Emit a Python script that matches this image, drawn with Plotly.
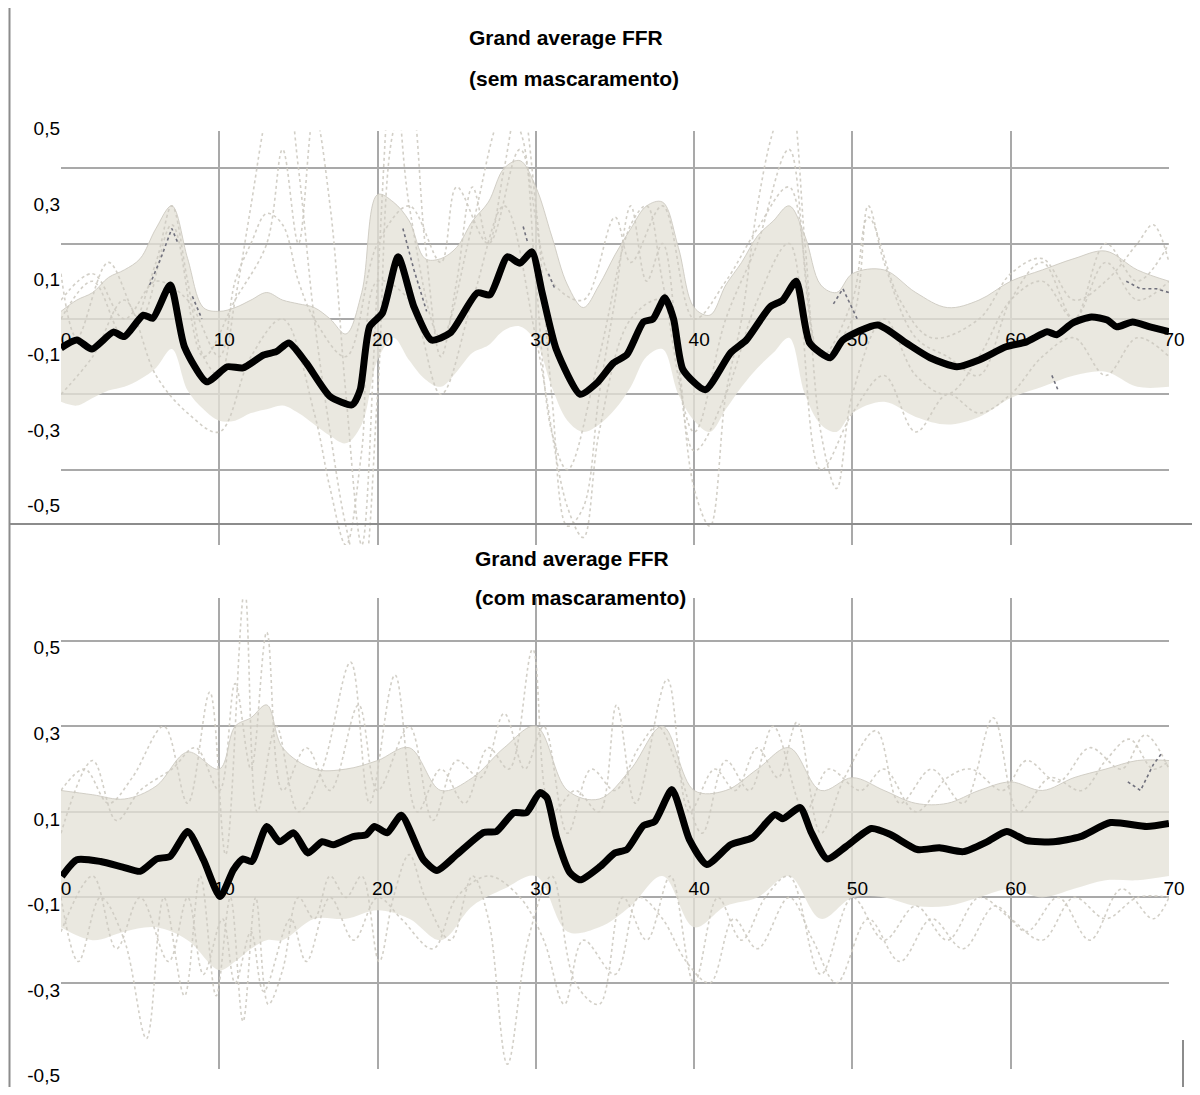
import plotly.graph_objects as go

# ---------------- data ----------------
X_TICKS = [0, 10, 20, 30, 40, 50, 60, 70]
X_TICKTEXT = ["0", "10", "20", "30", "40", "50", "60", "70"]
Y_LABEL_VALS = [0.5, 0.3, 0.1, -0.1, -0.3, -0.5]
Y_LABEL_TEXT = ["0,5", "0,3", "0,1", "-0,1", "-0,3", "-0,5"]
TOP_GRID_VALS = [0.4, 0.2, 0.0, -0.2, -0.4, -0.6]

TITLE_TOP = ["Grand average FFR", "(sem mascaramento)"]
TITLE_BOT = ["Grand average FFR", "(com mascaramento)"]

# grand average, top panel (sem mascaramento)
TOP_MEAN_X = [0.0, 1.0, 1.95, 3.3, 4.0, 5.2, 5.8, 6.9, 7.8, 9.2, 10.5, 11.5, 12.8, 13.6, 14.4, 15.5,
              17.0, 18.4, 18.9, 19.5, 20.3, 21.3, 22.3, 23.4, 24.6, 26.3, 27.1, 28.2, 29.0, 29.75,
              30.4, 31.3, 32.8, 33.85, 34.9, 35.75, 36.8, 37.4, 38.15, 38.7, 39.3, 40.7, 42.3, 43.3,
              44.8, 45.6, 46.45, 47.3, 48.6, 49.4, 51.6, 53.4, 54.9, 56.6, 58.0, 59.7, 61.0, 62.3,
              62.9, 63.9, 65.1, 66.1, 66.7, 67.7, 68.8, 70.0]
TOP_MEAN_Y = [-0.077, -0.056, -0.08, -0.035, -0.047, 0.01, 0.002, 0.09, -0.074, -0.167, -0.127, -0.13,
              -0.096, -0.087, -0.064, -0.117, -0.206, -0.228, -0.188, -0.02, 0.015, 0.165, 0.032,
              -0.056, -0.037, 0.069, 0.064, 0.165, 0.148, 0.178, 0.069, -0.082, -0.2, -0.17, -0.117,
              -0.095, -0.008, 0.0, 0.056, 0.0, -0.135, -0.188, -0.09, -0.056, 0.032, 0.05, 0.1,
              -0.064, -0.103, -0.056, -0.016, -0.064, -0.103, -0.127, -0.109, -0.074, -0.061,
              -0.034, -0.042, -0.011, 0.005, -0.003, -0.021, -0.008, -0.021, -0.034]

# grand average, bottom panel (com mascaramento)
BOT_MEAN_X = [0.05, 1.0, 2.5, 3.9, 5.0, 6.05, 6.9, 8.0, 9.0, 10.05, 10.9, 11.5, 12.05, 13.0, 13.8, 14.7,
              15.6, 16.5, 17.2, 18.45, 19.3, 19.8, 20.6, 21.5, 22.9, 23.75, 25.0, 26.7, 27.5, 28.6,
              29.4, 30.25, 30.7, 31.3, 32.15, 32.8, 34.05, 35.0, 35.75, 36.8, 37.5, 38.6, 39.7, 40.8,
              42.3, 43.7, 45.1, 45.6, 46.7, 47.4, 48.4, 49.6, 51.2, 52.4, 54.1, 55.5, 57.0, 58.5,
              59.75, 61.0, 62.7, 64.4, 66.3, 68.6, 70.0]
BOT_MEAN_Y = [-0.051, -0.012, -0.016, -0.029, -0.039, -0.01, -0.004, 0.054, -0.012, -0.098, -0.035,
              -0.01, -0.016, 0.066, 0.03, 0.051, 0.004, 0.03, 0.023, 0.042, 0.047, 0.066, 0.051,
              0.092, -0.012, -0.037, 0.0, 0.052, 0.054, 0.098, 0.098, 0.145, 0.133, 0.042, -0.042,
              -0.059, -0.028, 0.004, 0.012, 0.068, 0.077, 0.152, 0.035, -0.023, 0.023, 0.04, 0.094,
              0.084, 0.11, 0.052, -0.01, 0.019, 0.061, 0.047, 0.012, 0.016, 0.007, 0.03, 0.054,
              0.033, 0.03, 0.042, 0.075, 0.066, 0.073]

# dense cloud of individual recordings (envelope), top panel
TOP_ENV_X = list(range(0, 47)) + [47, 48, 49, 50, 52, 54, 56, 58, 60, 62, 64, 66, 68, 70]
TOP_ENV_UP = [0.02, 0.05, 0.07, 0.11, 0.13, 0.16, 0.24, 0.3, 0.16, 0.03, 0.02, 0.03, 0.05, 0.07,
              0.05, 0.04, 0.03, 0.0, -0.04, 0.07, 0.33, 0.31, 0.26, 0.16, 0.16, 0.19, 0.26, 0.31,
              0.4, 0.42, 0.35, 0.22, 0.09, 0.03, 0.09, 0.17, 0.24, 0.3, 0.31, 0.19, 0.03, 0.01,
              0.09, 0.15, 0.22, 0.26, 0.3,
              0.22, 0.09, 0.07, 0.12, 0.13, 0.07, 0.03, 0.05, 0.1, 0.13, 0.16, 0.18, 0.13, 0.1]
TOP_ENV_LO = [-0.22, -0.23, -0.21, -0.19, -0.18, -0.16, -0.13, -0.08, -0.19, -0.24, -0.27, -0.27,
              -0.25, -0.24, -0.23, -0.25, -0.28, -0.31, -0.33, -0.28, -0.11, -0.05, -0.11, -0.16,
              -0.18, -0.14, -0.09, -0.07, -0.03, -0.02, -0.06, -0.18, -0.27, -0.3, -0.28, -0.24,
              -0.18, -0.1, -0.08, -0.2, -0.27, -0.3, -0.24, -0.18, -0.13, -0.09, -0.05,
              -0.2, -0.28, -0.3, -0.25, -0.22, -0.26, -0.28, -0.26, -0.21, -0.18, -0.15, -0.14,
              -0.18, -0.18]

# dense cloud, bottom panel
BOT_ENV_X = [0, 2, 4, 6, 8, 10, 11, 12, 13, 14, 16, 18, 20, 22, 24, 26, 28, 30, 32, 34, 36, 38, 40,
             42, 44, 46, 48, 50, 52, 54, 56, 58, 60, 62, 64, 66, 68, 70]
BOT_ENV_UP = [0.15, 0.14, 0.13, 0.16, 0.24, 0.2, 0.3, 0.32, 0.35, 0.25, 0.2, 0.2, 0.22, 0.25, 0.15,
              0.18, 0.25, 0.3, 0.15, 0.13, 0.2, 0.3, 0.15, 0.15, 0.2, 0.25, 0.15, 0.18, 0.15, 0.12,
              0.12, 0.15, 0.17, 0.15, 0.18, 0.2, 0.22, 0.22]
BOT_ENV_LO = [-0.17, -0.2, -0.18, -0.17, -0.2, -0.27, -0.25, -0.22, -0.2, -0.2, -0.15, -0.15, -0.13,
              -0.15, -0.2, -0.12, -0.08, -0.05, -0.18, -0.17, -0.12, -0.05, -0.17, -0.12, -0.1,
              -0.05, -0.15, -0.1, -0.1, -0.12, -0.12, -0.1, -0.08, -0.1, -0.08, -0.06, -0.06, -0.05]

# individual outlying recordings (x, value)
TOP_OUT = [
    [(0, 0.0), (2, 0.1), (4, -0.05), (6, 0.15), (7, 0.3), (8, 0.1), (9, -0.1), (10, -0.15), (11, 0.05),
     (12, 0.3), (13, 0.55), (14, 0.7), (15, 0.4), (16, 0.0), (17, -0.3), (18, -0.55), (19, -0.7),
     (20, -0.2), (21, 0.5), (22, 0.6), (23, 0.2), (24, -0.1), (25, 0.1), (26, 0.35), (27, 0.2),
     (28, 0.4), (29, 0.6), (30, 0.3), (31, -0.2), (32, -0.55), (33, -0.5), (34, -0.2), (35, 0.05),
     (36, 0.3), (37, 0.1), (38, 0.2), (39, -0.1), (40, -0.45), (41, -0.55), (42, -0.2), (43, 0.0),
     (44, 0.3), (45, 0.5), (46, 0.6), (47, 0.2), (48, -0.3), (49, -0.45), (50, -0.2), (52, 0.0),
     (54, -0.15), (56, -0.2), (58, -0.1), (60, 0.05), (62, 0.1), (64, 0.0), (66, 0.15), (68, 0.05),
     (70, 0.1)],
    [(0, 0.12), (1, -0.05), (3, 0.15), (5, 0.0), (7, 0.25), (9, -0.1), (11, 0.05), (13, 0.2), (14, 0.45),
     (15, 0.2), (16, 0.55), (17, 0.3), (18, -0.2), (19, -0.6), (20, 0.1), (21, 0.7), (22, 0.3),
     (24, -0.05), (26, 0.25), (28, 0.55), (29, 0.5), (30, 0.1), (31, -0.3), (32, -0.4), (34, -0.1),
     (36, 0.25), (37, 0.3), (38, 0.1), (40, -0.3), (42, 0.0), (44, 0.2), (46, 0.45), (48, -0.1),
     (50, 0.0), (51, 0.3), (52, 0.15), (54, -0.05), (56, -0.1), (58, -0.15), (60, 0.05), (62, 0.15),
     (64, 0.0), (66, 0.2), (68, 0.1), (70, 0.2)],
    [(0, -0.2), (2, -0.1), (4, 0.05), (6, -0.15), (8, -0.25), (10, -0.3), (12, -0.1), (14, 0.0),
     (16, -0.25), (17, -0.45), (18, -0.6), (19, -0.35), (20, 0.1), (22, 0.05), (24, -0.2), (26, 0.05),
     (28, 0.3), (30, -0.05), (32, -0.5), (33, -0.58), (34, -0.3), (36, 0.0), (38, 0.05), (40, -0.35),
     (42, -0.2), (44, 0.05), (46, 0.2), (48, -0.4), (50, -0.25), (52, -0.15), (54, -0.3), (56, -0.2),
     (58, -0.25), (60, -0.2), (62, -0.1), (64, -0.05), (66, -0.15), (68, -0.05), (70, -0.1)],
    [(0, 0.05), (2, 0.12), (4, 0.0), (6, 0.1), (8, 0.05), (10, -0.1), (11, 0.1), (12, 0.2), (13, 0.28),
     (14, 0.25), (15, 0.1), (16, 0.0), (18, -0.1), (20, 0.2), (22, 0.3), (24, 0.15), (25, 0.35),
     (27, 0.2), (29, 0.45), (31, 0.1), (33, 0.05), (35, 0.27), (36, 0.15), (38, 0.3), (40, 0.0),
     (42, 0.1), (44, 0.24), (46, 0.35), (48, -0.1), (50, 0.05), (51, 0.27), (53, 0.05), (55, -0.05),
     (58, 0.0), (60, 0.12), (62, 0.16), (64, 0.05), (66, 0.1), (68, 0.2), (69, 0.25), (70, 0.15)],
]
BOT_OUT = [
    [(0, 0.15), (1.5, 0.2), (3, 0.12), (4.5, 0.18), (6.5, 0.3), (8, 0.12), (9.4, 0.38), (10.4, 0.0),
     (11.6, 0.62), (12.4, 0.1), (13.6, 0.3), (15, 0.1), (16.5, 0.2), (18.3, 0.45), (19.5, 0.12),
     (21.1, 0.42), (22.5, 0.1), (24, 0.2), (25.5, 0.12), (27, 0.25), (28.3, 0.2), (29.8, 0.48),
     (31, 0.1), (32.5, 0.15), (34, 0.1), (35.1, 0.35), (36.3, 0.12), (38.3, 0.41), (39.7, 0.1),
     (41.3, 0.2), (42.6, 0.15), (44, 0.25), (45.3, 0.18), (46.5, 0.31), (48, 0.05), (49.5, 0.18),
     (51.5, 0.29), (53, 0.12), (55, 0.2), (57, 0.12), (58.9, 0.32), (60.5, 0.1), (62.5, 0.18),
     (64.5, 0.15), (66, 0.22), (67.5, 0.27), (69, 0.2), (70, 0.22)],
    [(0, 0.05), (2, 0.22), (3.5, 0.08), (5, 0.15), (7, 0.2), (8.5, 0.25), (10, 0.15), (11, 0.4),
     (12, 0.2), (13, 0.52), (14, 0.15), (15.5, 0.25), (17, 0.15), (18.8, 0.35), (20, 0.15), (22, 0.3),
     (23.5, 0.08), (25, 0.22), (26.5, 0.18), (28, 0.33), (29.3, 0.2), (30.5, 0.3), (32, 0.05),
     (33.5, 0.2), (35, 0.15), (36.5, 0.25), (37.7, 0.3), (39, 0.2), (40.5, 0.05), (42, 0.22),
     (43.5, 0.15), (45, 0.3), (47, 0.1), (48.5, 0.2), (50.5, 0.15), (52, 0.2), (54, 0.1), (56, 0.18),
     (57.5, 0.2), (59.5, 0.15), (61, 0.22), (63, 0.17), (65, 0.25), (67, 0.2), (68.5, 0.28), (70, 0.2)],
    [(0, -0.1), (1.1, -0.25), (2.5, -0.1), (4, -0.2), (5.4, -0.43), (6.5, -0.1), (7.8, -0.33),
     (8.8, -0.05), (9.8, -0.33), (10.7, -0.1), (11.5, -0.39), (12.3, -0.1), (13.1, -0.35), (14, -0.27),
     (15, -0.1), (16, -0.15), (17, -0.05), (18, -0.1), (19, -0.05), (20.1, -0.25), (21, -0.1),
     (22, 0.0), (23, -0.1), (24.6, -0.2), (26, -0.05), (27, -0.15), (28.2, -0.49), (29.5, -0.2),
     (31, -0.05), (32.5, -0.3), (34, -0.35), (35.5, -0.1), (37, -0.2), (38.5, -0.05), (40, -0.3),
     (41.5, -0.1), (43, -0.2), (44.5, -0.1), (46, -0.05), (48, -0.28), (50, -0.1), (52, -0.2),
     (54, -0.12), (56, -0.2), (58, -0.1), (60, -0.15), (62, -0.2), (64, -0.1), (66, -0.15),
     (68, -0.1), (70, -0.1)],
    [(0, -0.18), (2, -0.05), (3.5, -0.22), (5, -0.1), (6.8, -0.25), (8, -0.1), (9, -0.28),
     (10.2, -0.15), (11, -0.3), (12, -0.18), (12.8, -0.32), (14.5, -0.15), (15.5, -0.25), (17, -0.1),
     (18.5, -0.2), (20, -0.1), (21.5, -0.15), (23.5, -0.22), (25, -0.1), (27, -0.05), (29, -0.1),
     (30.5, -0.2), (31.8, -0.35), (33, -0.2), (35, -0.28), (36.5, -0.1), (38, -0.15), (39.5, -0.25),
     (41, -0.3), (42.5, -0.15), (44, -0.22), (46, -0.1), (47.5, -0.2), (49, -0.3), (51, -0.15),
     (53, -0.25), (55, -0.15), (57, -0.22), (59, -0.12), (61, -0.18), (63, -0.1), (65, -0.2),
     (67, -0.08), (69, -0.15), (70, -0.1)],
]
# darker dashed fragments of single recordings
TOP_DARK = [
    [(5.6, 0.09), (6.3, 0.16), (7.0, 0.24), (7.4, 0.2)],
    [(8.3, 0.06), (8.9, 0.0)],
    [(21.6, 0.24), (22.3, 0.13), (23.1, 0.02)],
    [(29.2, 0.245), (29.5, 0.2)],
    [(30.8, 0.12), (31.2, 0.08)],
    [(48.8, 0.04), (49.4, 0.08), (50.3, 0.0)],
    [(62.6, -0.15), (63.0, -0.19)],
    [(67.3, 0.1), (68.2, 0.08), (69.2, 0.08), (70, 0.07)],
]
BOT_DARK = [
    [(67.4, 0.17), (68.2, 0.15), (69.0, 0.21), (69.6, 0.24)],
]

# ---------------- figure ----------------
# page has the default 8px body margin; axes use no automargin so the plot keeps its size
OFFX, OFFY = 8, 8
W, H = 1184, 1079
FONT = "Liberation Sans, Arial, sans-serif"
GRID = "#a9a9a9"
CLOUD = "rgba(228,225,215,0.78)"
OUTC = "rgba(205,202,193,0.9)"


def fx(px):
    return (px - OFFX) / W


def fy(py):
    return 1 - (py - OFFY) / H


X_DOM = [fx(61), fx(1169)]
TOP_RANGE = [-0.6, 0.5]
BOT_RANGE = [-0.5, 0.6]
TOP_DOM = [fy(545), fy(130.5)]
BOT_DOM = [fy(1068.5), fy(598)]


def cross_pos(dom, rng, val=0.0):
    return dom[0] + (val - rng[0]) / (rng[1] - rng[0]) * (dom[1] - dom[0])


fig = go.Figure()


def add_panel(xa, ya, env_x, env_up, env_lo, outs, darks, mx, my):
    fig.add_trace(go.Scatter(x=env_x, y=env_lo, mode="lines", line=dict(width=0, shape="spline"),
                             xaxis=xa, yaxis=ya, hoverinfo="skip"))
    fig.add_trace(go.Scatter(x=env_x, y=env_up, mode="lines", fill="tonexty", fillcolor=CLOUD,
                             line=dict(width=1, color=OUTC, shape="spline"),
                             xaxis=xa, yaxis=ya, hoverinfo="skip"))
    for o in outs:
        fig.add_trace(go.Scatter(x=[p[0] for p in o], y=[p[1] for p in o], mode="lines",
                                 line=dict(width=1.6, color=OUTC, dash="dot", shape="spline"),
                                 xaxis=xa, yaxis=ya, hoverinfo="skip"))
    dx, dy = [], []
    for seg in darks:
        dx += [p[0] for p in seg] + [None]
        dy += [p[1] for p in seg] + [None]
    fig.add_trace(go.Scatter(x=dx, y=dy, mode="lines", line=dict(width=1.6, color="#70707c", dash="dot"),
                             xaxis=xa, yaxis=ya, hoverinfo="skip"))
    fig.add_trace(go.Scatter(x=mx, y=my, mode="lines",
                             line=dict(width=7, color="black", shape="spline", smoothing=0.6),
                             xaxis=xa, yaxis=ya, hoverinfo="skip"))


add_panel("x", "y", TOP_ENV_X, TOP_ENV_UP, TOP_ENV_LO, TOP_OUT, TOP_DARK, TOP_MEAN_X, TOP_MEAN_Y)
add_panel("x2", "y2", BOT_ENV_X, BOT_ENV_UP, BOT_ENV_LO, BOT_OUT, BOT_DARK, BOT_MEAN_X, BOT_MEAN_Y)

tickfont = dict(family=FONT, size=19, color="black")
xcommon = dict(range=[0, 70], domain=X_DOM, tickvals=X_TICKS, ticktext=X_TICKTEXT, showgrid=True,
               gridcolor=GRID, gridwidth=2, zeroline=False, showline=False, ticks="",
               tickfont=tickfont, anchor="free", ticklabelshift=5, automargin=False,
               ticklabeloverflow="allow")
fig.update_layout(
    width=W, height=H, margin=dict(l=0, r=0, t=0, b=0, autoexpand=False),
    paper_bgcolor="white", plot_bgcolor="white", showlegend=False, hovermode=False,
    xaxis=dict(**xcommon, position=cross_pos(TOP_DOM, TOP_RANGE), ticklabelstandoff=7),
    xaxis2=dict(**xcommon, position=cross_pos(BOT_DOM, BOT_RANGE), ticklabelstandoff=20),
    yaxis=dict(range=TOP_RANGE, domain=TOP_DOM, anchor="x", tickvals=Y_LABEL_VALS, ticktext=Y_LABEL_TEXT,
               showgrid=False, zeroline=False, showline=False, ticks="", tickfont=tickfont,
               ticklabelstandoff=0, ticklabelshift=-2, automargin=False, ticklabeloverflow="allow",
               minor=dict(tickvals=TOP_GRID_VALS, showgrid=True, gridcolor=GRID, gridwidth=2, ticks="")),
    yaxis2=dict(range=BOT_RANGE, domain=BOT_DOM, anchor="x2", tickvals=Y_LABEL_VALS, ticktext=Y_LABEL_TEXT,
                showgrid=True, gridcolor=GRID, gridwidth=2, zeroline=False, showline=False, ticks="",
                tickfont=tickfont, ticklabelshift=7, ticklabelstandoff=0, automargin=False,
                ticklabeloverflow="allow"),
)

tfont = dict(family=FONT, size=21, color="black")
for txt, xp, yp in [(TITLE_TOP[0], 566, 38), (TITLE_TOP[1], 574, 78),
                    (TITLE_BOT[0], 572, 558), (TITLE_BOT[1], 580, 597)]:
    fig.add_annotation(text="<b>%s</b>" % txt, x=fx(xp), y=fy(yp), xref="paper", yref="paper",
                       xanchor="center", yanchor="middle", showarrow=False, font=tfont)

# frame lines of the original page
FRAME = "#8c8c8c"
fig.add_shape(type="line", xref="paper", yref="paper", x0=fx(9.5), x1=fx(9.5), y0=0, y1=1,
              line=dict(color=FRAME, width=2))
fig.add_shape(type="line", xref="paper", yref="paper", x0=fx(9.5), x1=1, y0=fy(524), y1=fy(524),
              line=dict(color=FRAME, width=2))
fig.add_shape(type="line", xref="paper", yref="paper", x0=fx(1183), x1=fx(1183), y0=0, y1=fy(1040),
              line=dict(color=FRAME, width=2))

fig.write_html("out.html")
